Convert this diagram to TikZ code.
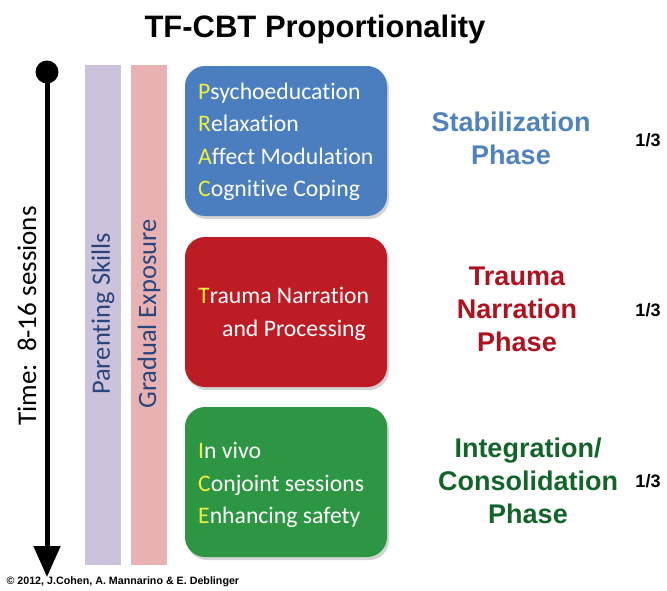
\documentclass[tikz,border=0pt]{standalone}
\usepackage{fontspec}
\setmainfont{Carlito}[Ligatures=NoCommon]
\newfontfamily\headfont{Liberation Sans}
\usetikzlibrary{arrows.meta,shadows}
\definecolor{stabblue}{RGB}{74,126,190}
\definecolor{traured}{RGB}{190,28,36}
\definecolor{integreen}{RGB}{44,150,66}
\definecolor{lavbar}{RGB}{204,194,220}
\definecolor{pinkbar}{RGB}{232,178,178}
\definecolor{barink}{RGB}{40,70,125}
\definecolor{firstletter}{RGB}{240,240,60}
\definecolor{phblue}{RGB}{80,130,190}
\definecolor{phred}{RGB}{175,18,30}
\definecolor{phgreen}{RGB}{18,100,40}
\newcommand{\fl}[1]{\textcolor{firstletter}{#1}}
\tikzset{
  phasebox/.style={draw=none, rounded corners=20pt, minimum width=202pt, minimum height=150pt,
    drop shadow={opacity=0.35, shadow xshift=2pt, shadow yshift=-3pt}},
  boxtext/.style={anchor=west, text=white, align=left, font=\fontsize{23.7}{32.5}\selectfont, inner sep=0pt},
  bar/.style={minimum width=36pt, minimum height=500pt, inner sep=0pt},
  bartext/.style={rotate=90, font=\fontsize{26.5}{30}\selectfont, text=barink},
  phaselabel/.style={align=center, font=\headfont\bfseries\fontsize{27}{33}\selectfont},
  third/.style={font=\headfont\bfseries\fontsize{18}{20}\selectfont}
}
\begin{document}
\begin{tikzpicture}[x=1pt,y=-1pt]
  \useasboundingbox (0,0) rectangle (667,590);
  \node (title) at (315,29) {\headfont\bfseries\fontsize{31}{34}\selectfont TF-CBT Proportionality};

  % time line
  \node[circle, fill=black, minimum size=23pt, inner sep=0pt] (dot) at (47,72) {};
  \coordinate (tip) at (47,577);
  \draw[line width=5pt, -{Triangle[width=26pt,length=31pt]}] (dot.center) -- (tip);
  \node[rotate=90, font=\fontsize{27}{30}\selectfont] (time) at (27,316) {Time:\ \ 8-16 sessions};

  % bars
  \node[bar, fill=lavbar] (ps) at (103,315) {};
  \node[bartext] (pstext) at (103,314) {Parenting Skills};
  \node[bar, fill=pinkbar] (ge) at (149,315) {};
  \node[bartext] (getext) at (149,314) {Gradual Exposure};

  % phase boxes
  \node[phasebox, fill=stabblue] (stab) at (286,141) {};
  \node[boxtext] (stabtext) at (198,142) {\fl{P}sychoeducation\\ \fl{R}elaxation\\ \fl{A}ffect Modulation\\ \fl{C}ognitive Coping};
  \node[phasebox, fill=traured] (trau) at (286,312) {};
  \node[boxtext] (trautext) at (198,314) {\fl{T}rauma Narration\\ \hspace*{24pt}and Processing};
  \node[phasebox, fill=integreen] (integ) at (286,482) {};
  \node[boxtext] (integtext) at (198,485) {\fl{I}n vivo\\ \fl{C}onjoint sessions\\ \fl{E}nhancing safety};

  % phase names
  \node[phaselabel, text=phblue] (stabname) at (511,138) {Stabilization\\ Phase};
  \node[phaselabel, text=phred] (trauname) at (517,309) {Trauma\\ Narration\\ Phase};
  \node[phaselabel, text=phgreen] (integname) at (528,481) {Integration/\\ Consolidation\\ Phase};
  \node[third] (t1) at (648,140) {1/3};
  \node[third] (t2) at (648,310) {1/3};
  \node[third] (t3) at (648,481) {1/3};

  \node[anchor=west, font=\headfont\bfseries\fontsize{10.7}{12}\selectfont] (copy) at (3,582) {\textcopyright\ 2012, J.Cohen, A. Mannarino \& E. Deblinger};
\end{tikzpicture}
\end{document}
